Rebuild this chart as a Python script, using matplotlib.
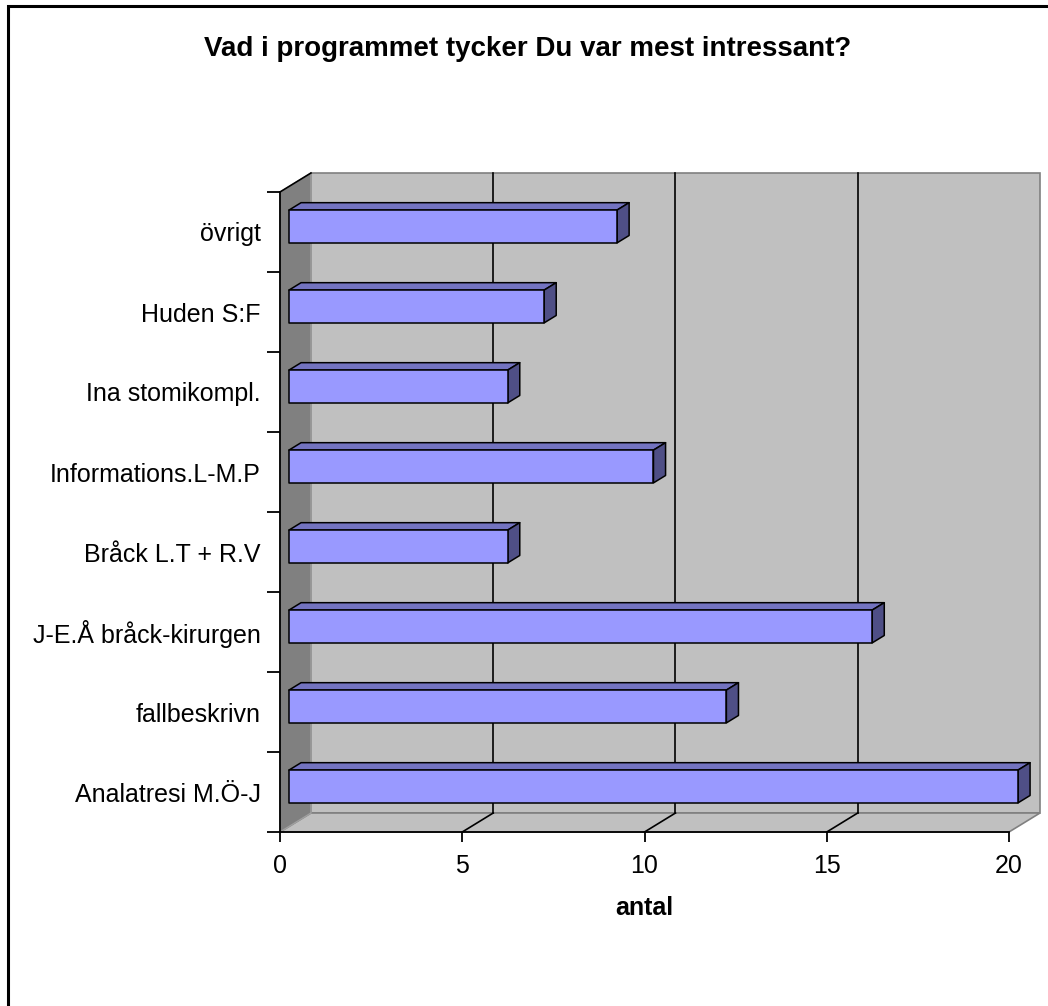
import matplotlib
matplotlib.use('Agg')
import matplotlib.pyplot as plt
from matplotlib.patches import Polygon, Rectangle

plt.rcParams['font.family'] = ['Liberation Sans', 'DejaVu Sans']

# data (bottom to top, as drawn)
categories = ['Analatresi M.Ö-J', 'fallbeskrivn', 'J-E.Å bråck-kirurgen',
              'Bråck L.T + R.V', 'Informations.L-M.P', 'Ina stomikompl.',
              'Huden S:F', 'övrigt']
counts = [20, 12, 16, 6, 10, 6, 7, 9]
x_ticks = [0, 5, 10, 15, 20]

title = 'Vad i programmet tycker Du var mest intressant?'
xlabel = 'antal'

# fake 3d depth, in data units
DX = 0.85
DY = 0.2375
BAR_D0 = 0.29
BAR_D1 = 0.68
BAR_H = 0.41

WALL = '#C0C0C0'
SIDE = '#808080'
FRONT = '#9999FF'
TOP = '#7373C0'
RIGHT = '#4F4F86'


def proj(x, y, d):
    return (x + d * DX, y + d * DY)


fig = plt.figure(figsize=(10.48, 10.06), dpi=100)
ax = fig.add_axes([280 / 1048, 174 / 1006, 729 / 1048, 640 / 1006])
ax.set_xlim(0, 20)
ax.set_ylim(0, len(categories))
xmax = 20
ny = len(categories)

# walls
back = [proj(0, 0, 1), proj(xmax, 0, 1), proj(xmax, ny, 1), proj(0, ny, 1)]
ax.add_patch(Polygon(back, closed=True, facecolor=WALL, edgecolor=SIDE,
                     lw=1.2, clip_on=False, zorder=1))
floor = [(0, 0), (xmax, 0), proj(xmax, 0, 1), proj(0, 0, 1)]
ax.add_patch(Polygon(floor, closed=True, facecolor=WALL, edgecolor=SIDE,
                     lw=1.2, clip_on=False, zorder=1))
side = [(0, 0), (0, ny), proj(0, ny, 1), proj(0, 0, 1)]
ax.add_patch(Polygon(side, closed=True, facecolor=SIDE, edgecolor='#A0A0A0',
                     lw=1.0, clip_on=False, zorder=1))
ax.plot([0, DX], [ny, ny + DY], color='black', lw=1.2, clip_on=False, zorder=2)

# gridlines on back wall and floor
for v in x_ticks[1:-1]:
    bx, by = proj(v, 0, 1)
    ax.plot([bx, bx], [by, ny + DY], color='black', lw=1.2, clip_on=False, zorder=2)
    ax.plot([v, bx], [0, by], color='black', lw=1.2, clip_on=False, zorder=2)

# bars
for i, val in enumerate(counts):
    y0 = i + 0.5 - BAR_H / 2
    y1 = i + 0.5 + BAR_H / 2
    front = [proj(0, y0, BAR_D0), proj(val, y0, BAR_D0),
             proj(val, y1, BAR_D0), proj(0, y1, BAR_D0)]
    top = [proj(0, y1, BAR_D0), proj(val, y1, BAR_D0),
           proj(val, y1, BAR_D1), proj(0, y1, BAR_D1)]
    right = [proj(val, y0, BAR_D0), proj(val, y0, BAR_D1),
             proj(val, y1, BAR_D1), proj(val, y1, BAR_D0)]
    for pts, col in [(top, TOP), (right, RIGHT), (front, FRONT)]:
        ax.add_patch(Polygon(pts, closed=True, facecolor=col, edgecolor='black',
                             lw=1.1, joinstyle='round', clip_on=False, zorder=3))

# axes
for s in ['top', 'right']:
    ax.spines[s].set_visible(False)
for s in ['left', 'bottom']:
    ax.spines[s].set_linewidth(1.3)
    ax.spines[s].set_zorder(4)

ax.set_xticks(x_ticks)
ax.set_xticklabels([str(t) for t in x_ticks], fontsize=18)
ax.tick_params(axis='x', direction='out', length=7, width=1.3, pad=9)

ax.set_yticks(range(ny + 1))
ax.set_yticklabels([])
ax.set_yticks([i + 0.5 for i in range(ny)], minor=True)
ax.set_yticklabels(categories, minor=True, fontsize=18)
ax.tick_params(axis='y', which='major', direction='out', length=9.5, width=1.3)
ax.tick_params(axis='y', which='minor', length=0, pad=14)

ax.set_xlabel(xlabel, fontsize=18, fontweight='bold', labelpad=13)

fig.text(528 / 1048, 1 - 49 / 1006, title, ha='center', va='center',
         fontsize=20, fontweight='bold')

# outer chart border (cut off at right and bottom)
fig.add_artist(Rectangle((8 / 1048, -0.1), 1.2, 1.1 - 6 / 1006, transform=fig.transFigure,
                         fill=False, edgecolor='black', lw=2.2))

fig.savefig('out.png', dpi=100)
